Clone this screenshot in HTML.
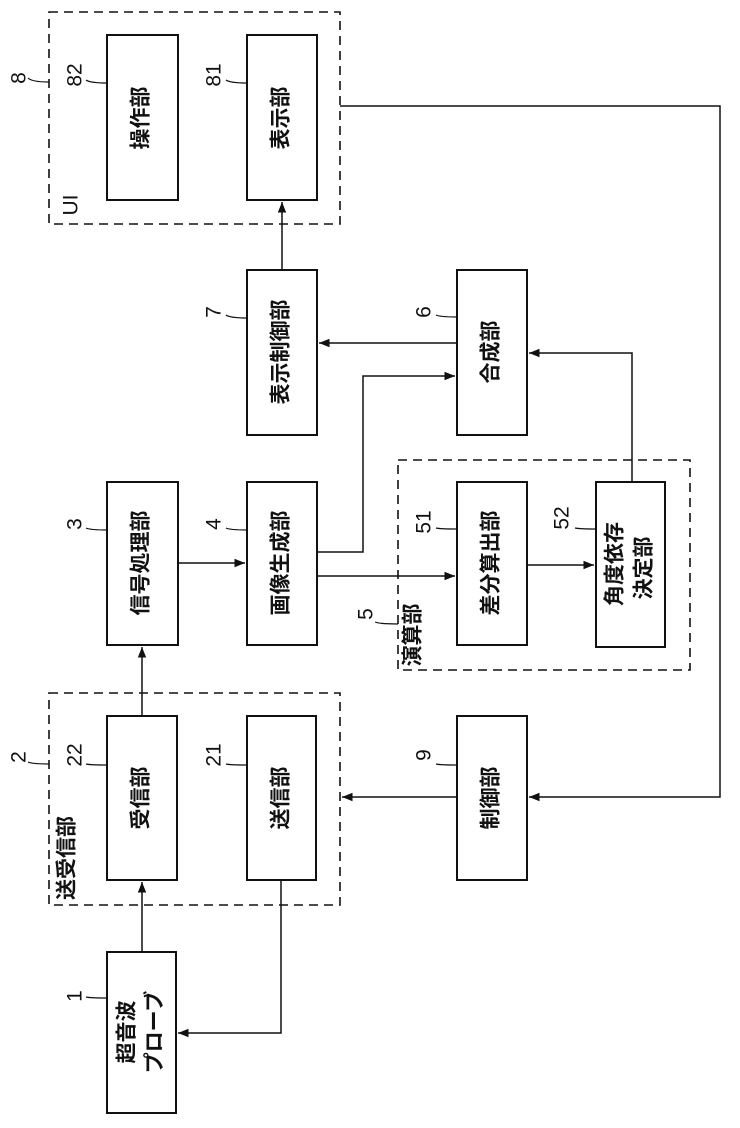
<!DOCTYPE html>
<html><head><meta charset="utf-8"><style>
html,body{margin:0;padding:0;background:#fff;}
svg{display:block;}
text{font-family:"Liberation Sans","Noto Sans CJK JP",sans-serif;fill:#111;}
.j{font-size:21px;font-weight:bold;}
.n{font-size:21px;}
</style></head><body>
<svg width="740" height="1128" viewBox="0 0 740 1128" xmlns="http://www.w3.org/2000/svg">
<defs><marker id="a" viewBox="0 0 10 10" refX="10" refY="5" markerWidth="7" markerHeight="7" orient="auto"><path d="M0,1 L10,5 L0,9 z" fill="#111"/></marker></defs>
<g fill="none" stroke="#111" stroke-width="1.6" stroke-dasharray="9,6">
<rect x="49" y="12" width="291" height="212"/>
<rect x="398" y="460" width="292" height="210"/>
<rect x="49" y="693" width="291" height="212"/>
</g>
<g fill="#fff" stroke="#111" stroke-width="2">
<rect x="107" y="35" width="71" height="165"/>
<rect x="247" y="35" width="70" height="165"/>
<rect x="247" y="270" width="70" height="165"/>
<rect x="457" y="270" width="70" height="165"/>
<rect x="107" y="482" width="71" height="163"/>
<rect x="247" y="482" width="70" height="163"/>
<rect x="457" y="482" width="70" height="163"/>
<rect x="596" y="482" width="69" height="165"/>
<rect x="107" y="716" width="70" height="164"/>
<rect x="247" y="716" width="69" height="164"/>
<rect x="457" y="716" width="70" height="164"/>
<rect x="107" y="952" width="69" height="161"/>
</g>
<g fill="none" stroke="#111" stroke-width="1.5">
<polyline points="340,106 720,106 720,797 529,797" marker-end="url(#a)"/>
<line x1="457" y1="797" x2="342" y2="797" marker-end="url(#a)"/>
<line x1="282" y1="270" x2="282" y2="202" marker-end="url(#a)"/>
<line x1="457" y1="343" x2="319" y2="343" marker-end="url(#a)"/>
<polyline points="317,552 363,552 363,376 455,376" marker-end="url(#a)"/>
<line x1="317" y1="576" x2="455" y2="576" marker-end="url(#a)"/>
<line x1="527" y1="565" x2="594" y2="565" marker-end="url(#a)"/>
<polyline points="632,482 632,353 529,353" marker-end="url(#a)"/>
<line x1="178" y1="563" x2="245" y2="563" marker-end="url(#a)"/>
<line x1="142" y1="716" x2="142" y2="647" marker-end="url(#a)"/>
<line x1="142" y1="952" x2="142" y2="882" marker-end="url(#a)"/>
<polyline points="281,880 281,1033 178,1033" marker-end="url(#a)"/>
</g>
<g fill="none" stroke="#111" stroke-width="1.2">
<path d="M28,78 Q32,82 49,82"/>
<path d="M86,80 Q90,83 107,83"/>
<path d="M226,80 Q230,83 247,83"/>
<path d="M226,315 Q230,318 247,318"/>
<path d="M436,315 Q440,317 457,317"/>
<path d="M86,528 Q90,530 107,530"/>
<path d="M226,528 Q230,530 247,530"/>
<path d="M436,528 Q440,529 457,529"/>
<path d="M575,528 Q580,529 596,529"/>
<path d="M375,622 Q380,624 398,624"/>
<path d="M28,762 Q32,764 49,764"/>
<path d="M86,764 Q90,765 107,765"/>
<path d="M226,764 Q230,765 247,765"/>
<path d="M436,764 Q440,765 457,765"/>
<path d="M86,997 Q90,998 107,998"/>
</g>
<g class="n" text-anchor="middle">
<text transform="translate(20,78) rotate(-90)" dominant-baseline="middle">8</text>
<text transform="translate(76,75) rotate(-90)" dominant-baseline="middle">82</text>
<text transform="translate(215,75) rotate(-90)" dominant-baseline="middle">81</text>
<text transform="translate(215,312) rotate(-90)" dominant-baseline="middle">7</text>
<text transform="translate(425,312) rotate(-90)" dominant-baseline="middle">6</text>
<text transform="translate(76,524) rotate(-90)" dominant-baseline="middle">3</text>
<text transform="translate(215,524) rotate(-90)" dominant-baseline="middle">4</text>
<text transform="translate(425,522) rotate(-90)" dominant-baseline="middle">51</text>
<text transform="translate(563,518) rotate(-90)" dominant-baseline="middle">52</text>
<text transform="translate(367,614) rotate(-90)" dominant-baseline="middle">5</text>
<text transform="translate(20,757) rotate(-90)" dominant-baseline="middle">2</text>
<text transform="translate(76,755) rotate(-90)" dominant-baseline="middle">22</text>
<text transform="translate(215,755) rotate(-90)" dominant-baseline="middle">21</text>
<text transform="translate(425,755) rotate(-90)" dominant-baseline="middle">9</text>
<text transform="translate(76,996) rotate(-90)" dominant-baseline="middle">1</text>
<text transform="translate(72,205) rotate(-90)" dominant-baseline="middle">UI</text>
</g>
<g class="j" text-anchor="middle">
<text transform="translate(142,118) rotate(-90)" dominant-baseline="middle">操作部</text>
<text transform="translate(282,118) rotate(-90)" dominant-baseline="middle">表示部</text>
<text transform="translate(282,352) rotate(-90)" dominant-baseline="middle">表示制御部</text>
<text transform="translate(492,352) rotate(-90)" dominant-baseline="middle">合成部</text>
<text transform="translate(142,563) rotate(-90)" dominant-baseline="middle">信号処理部</text>
<text transform="translate(282,563) rotate(-90)" dominant-baseline="middle">画像生成部</text>
<text transform="translate(492,563) rotate(-90)" dominant-baseline="middle">差分算出部</text>
<text transform="translate(616,564) rotate(-90)" dominant-baseline="middle">角度依存</text>
<text transform="translate(645,568) rotate(-90)" dominant-baseline="middle">決定部</text>
<text transform="translate(414,635) rotate(-90)" dominant-baseline="middle">演算部</text>
<text transform="translate(142,798) rotate(-90)" dominant-baseline="middle">受信部</text>
<text transform="translate(282,798) rotate(-90)" dominant-baseline="middle">送信部</text>
<text transform="translate(492,798) rotate(-90)" dominant-baseline="middle">制御部</text>
<text transform="translate(68,858) rotate(-90)" dominant-baseline="middle">送受信部</text>
<text transform="translate(128,1032) rotate(-90)" dominant-baseline="middle">超音波</text>
<text transform="translate(156,1032) rotate(-90)" dominant-baseline="middle">プローブ</text>
</g>
</svg>
</body></html>
